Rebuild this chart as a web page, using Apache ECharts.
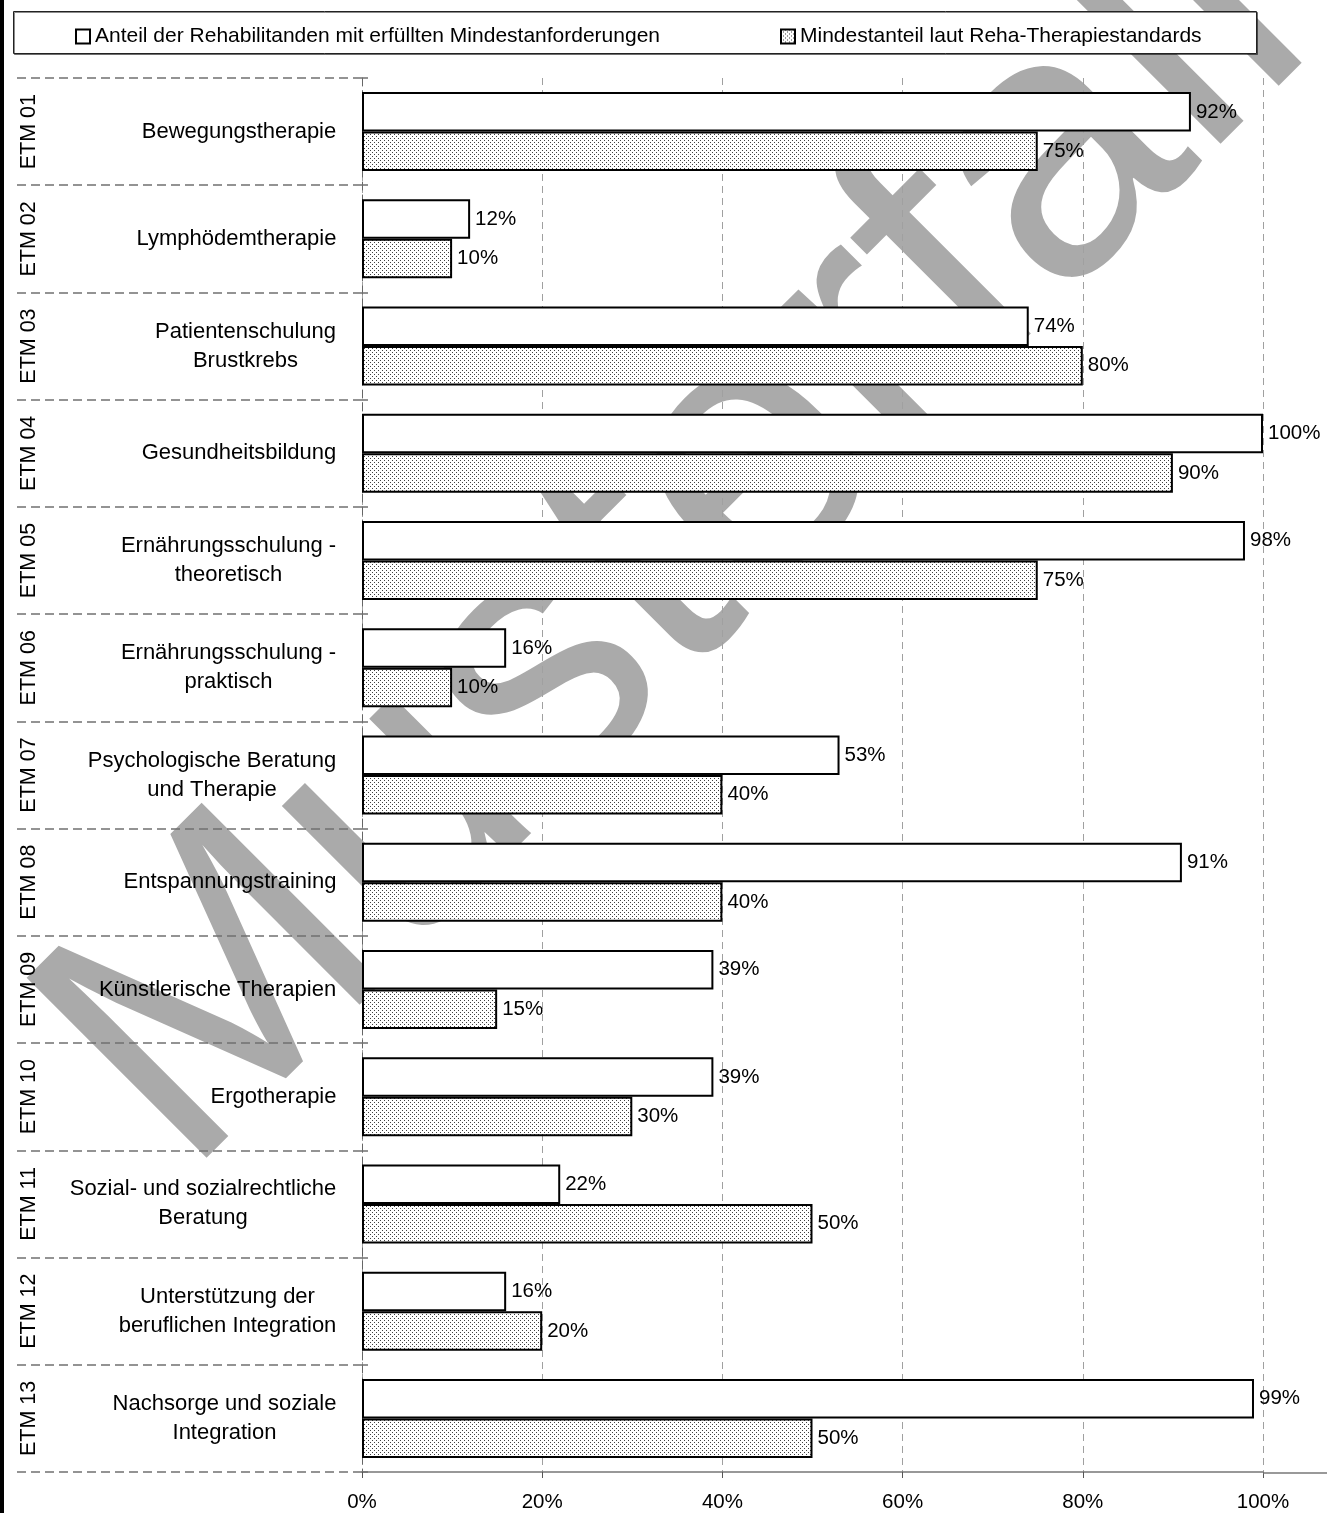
<!DOCTYPE html>
<html>
<head>
<meta charset="utf-8">
<script src="https://cdn.jsdelivr.net/npm/echarts@6/dist/echarts.min.js"></script>
<style>
  html, body { margin: 0; padding: 0; background: #fff; }
  #chart { width: 1327px; height: 1513px; }
</style>
</head>
<body>
<div id="chart"></div>
<script>
// Therapy module codes and names (top to bottom)
const codes = ['ETM 01', 'ETM 02', 'ETM 03', 'ETM 04', 'ETM 05', 'ETM 06', 'ETM 07',
               'ETM 08', 'ETM 09', 'ETM 10', 'ETM 11', 'ETM 12', 'ETM 13'];
const names = [
  'Bewegungstherapie',
  'Lymphödemtherapie',
  'Patientenschulung\nBrustkrebs',
  'Gesundheitsbildung',
  'Ernährungsschulung -\ntheoretisch',
  'Ernährungsschulung -\npraktisch',
  'Psychologische Beratung\nund Therapie',
  'Entspannungstraining',
  'Künstlerische Therapien',
  'Ergotherapie',
  'Sozial- und sozialrechtliche\nBeratung',
  'Unterstützung der\nberuflichen Integration',
  'Nachsorge und soziale\nIntegration'
];
// Share of patients meeting the minimum requirements (%)
const anteil = [92, 12, 74, 100, 98, 16, 53, 91, 39, 39, 22, 16, 99];
// Minimum share required by the therapy standards (%)
const mindest = [75, 10, 80, 90, 75, 10, 40, 40, 15, 30, 50, 20, 50];
// Value axis ticks (%)
const xTicks = [0, 20, 40, 60, 80, 100];

const seriesNames = [
  'Anteil der Rehabilitanden mit erfüllten Mindestanforderungen',
  'Mindestanteil laut Reha-Therapiestandards'
];

const FONT = '"Liberation Sans", Arial, sans-serif';
const NAME_SIZE = 22;

// Dotted fill used for the minimum-share bars
function dotPattern() {
  const c = document.createElement('canvas');
  c.width = 4; c.height = 4;
  const ctx = c.getContext('2d');
  ctx.fillStyle = '#fff';
  ctx.fillRect(0, 0, 4, 4);
  ctx.fillStyle = '#404040';
  ctx.fillRect(0, 0, 1, 1);
  ctx.fillRect(2, 2, 1, 1);
  return c;
}

// Category names: lines centred within their own block, block right-aligned
const measureCtx = document.createElement('canvas').getContext('2d');
measureCtx.font = NAME_SIZE + 'px ' + FONT;
const labelRich = {};
names.forEach((n, i) => {
  const w = Math.max(...n.split('\n').map(l => measureCtx.measureText(l).width));
  labelRich['c' + i] = {
    width: Math.ceil(w) + 1, align: 'center', fontSize: NAME_SIZE, lineHeight: 29,
    color: '#000', fontFamily: FONT
  };
});

const chart = echarts.init(document.getElementById('chart'), null, { renderer: 'canvas' });

const legendBase = {
  top: 21, icon: 'rect', itemWidth: 14, itemHeight: 14, itemGap: 0,
  textStyle: { fontSize: 21, color: '#000', fontFamily: FONT },
  itemStyle: { borderColor: '#000', borderWidth: 2 },
  selectedMode: false
};

const option = {
  backgroundColor: '#fff',
  animation: false,
  textStyle: { fontFamily: FONT },
  legend: [
    Object.assign({ data: [seriesNames[0]], left: 70 }, legendBase),
    Object.assign({ data: [seriesNames[1]], left: 775 }, legendBase)
  ],
  grid: { left: 362, right: 64, top: 78, bottom: 40, containLabel: false },
  xAxis: {
    type: 'value', min: xTicks[0], max: xTicks[xTicks.length - 1], interval: 20,
    axisLine: { show: true, lineStyle: { color: '#777', width: 1.5 } },
    axisTick: { show: true, length: 6, lineStyle: { color: '#555', width: 1 } },
    axisLabel: {
      formatter: '{value}%', fontSize: 20.5, color: '#000', margin: 20, fontFamily: FONT
    },
    splitLine: { show: true, lineStyle: { color: '#a0a0a0', width: 1, type: [7, 5] } }
  },
  yAxis: [
    {
      type: 'category', data: names, inverse: true,
      axisLine: { show: true, lineStyle: { color: '#666', width: 1, type: [8, 5] } },
      axisTick: { show: true, length: 347, lineStyle: { color: '#707070', width: 1.5, type: [9, 5] } },
      axisLabel: {
        margin: 25, align: 'right', rich: labelRich,
        formatter: (v, i) => v.split('\n').map(l => '{c' + i + '|' + l + '}').join('\n')
      },
      splitLine: { show: false }
    },
    {
      type: 'category', data: codes, inverse: true, position: 'left',
      axisLine: { show: false },
      axisTick: { show: true, inside: true, length: 6, lineStyle: { color: '#707070', width: 1.5 } },
      axisLabel: { rotate: 90, margin: 322, fontSize: 21.5, color: '#000', fontFamily: FONT },
      splitLine: { show: false }
    }
  ],
  series: [
    {
      name: seriesNames[0], type: 'bar', data: anteil,
      barWidth: 39.5, barGap: '0%',
      itemStyle: { color: '#fff', borderColor: '#000', borderWidth: 2 },
      label: {
        show: true, position: 'right', distance: 5, formatter: '{c}%',
        fontSize: 20.5, color: '#000', fontFamily: FONT
      },
      z: 3
    },
    {
      name: seriesNames[1], type: 'bar', data: mindest,
      barWidth: 39.5, barGap: '0%',
      itemStyle: {
        color: { image: dotPattern(), repeat: 'repeat' },
        borderColor: '#000', borderWidth: 2
      },
      label: {
        show: true, position: 'right', distance: 5, formatter: '{c}%',
        fontSize: 20.5, color: '#000', fontFamily: FONT
      },
      z: 3
    }
  ]
};

chart.setOption(option);

// Frame elements: watermark, legend box, left rule, axis line run-out
const x100 = chart.convertToPixel({ xAxisIndex: 0 }, xTicks[xTicks.length - 1]);
const axisY = 1513 - option.grid.bottom;
chart.setOption({
  graphic: [
    {
      id: 'watermark', type: 'text', z: -10, silent: true,
      x: 680, y: 540, rotation: Math.PI / 4,
      style: {
        text: 'Musterfall', font: '370px ' + FONT, fill: '#aaaaaa',
        stroke: '#ffffff', lineWidth: 6,
        align: 'center', verticalAlign: 'middle',
        textAlign: 'center', textVerticalAlign: 'middle'
      }
    },
    {
      id: 'legendBox', type: 'rect', z: 1, silent: true,
      shape: { x: 13.5, y: 11.5, width: 1243, height: 42 },
      style: { fill: '#fff', stroke: '#222', lineWidth: 1,
               shadowColor: 'rgba(0,0,0,0.45)', shadowOffsetX: 1, shadowOffsetY: 1 }
    },
    {
      id: 'leftRule', type: 'rect', z: 10, silent: true,
      shape: { x: 0, y: 0, width: 4, height: 1513 },
      style: { fill: '#000' }
    },
    {
      id: 'axisRunout', type: 'line', z: 5, silent: true,
      shape: { x1: x100, y1: axisY, x2: 1327, y2: axisY },
      style: { stroke: '#777', lineWidth: 1.5 }
    }
  ]
});
</script>
</body>
</html>
